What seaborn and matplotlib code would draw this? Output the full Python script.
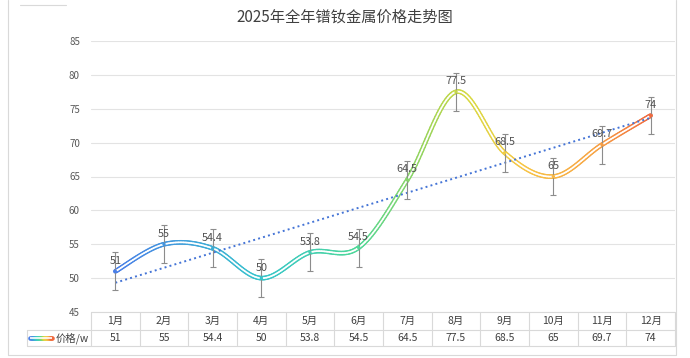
"""2025 praseodymium-neodymium price trend, redrawn from an Excel chart."""

import matplotlib.pyplot as plt
import numpy as np
import pandas as pd
import seaborn as sns
from matplotlib.collections import LineCollection
from matplotlib.colors import LinearSegmentedColormap
from matplotlib.lines import Line2D
from matplotlib.transforms import blended_transform_factory

# Data
months = ["1月", "2月", "3月", "4月", "5月", "6月", "7月", "8月", "9月", "10月", "11月", "12月"]
prices = [51, 55, 54.4, 50, 53.8, 54.5, 64.5, 77.5, 68.5, 65, 69.7, 74]
price_labels = ["51", "55", "54.4", "50", "53.8", "54.5", "64.5", "77.5", "68.5", "65", "69.7", "74"]
error_size = 2.8  # same error bar for every month
series_name = "价格/w"
title = "2025年全年镨钕金属价格走势图"

# Gradient along the line, left to right
grad_cmap = LinearSegmentedColormap.from_list(
	"price_grad",
	[
		(0.00, "#4a7fe8"),
		(0.27, "#36c5cc"),
		(0.45, "#4fd89a"),
		(0.58, "#9ad45a"),
		(0.66, "#d8da42"),
		(0.76, "#f7c646"),
		(0.90, "#f7a244"),
		(1.00, "#f06a40"),
	],
)

sns.set_theme(style="white")
plt.rcParams["font.family"] = ["Noto Sans CJK SC", "DejaVu Sans"]

df = pd.DataFrame({"pos": np.arange(len(months)), "month": months, "price": prices})

fig = plt.figure(figsize=(6.9, 3.58), dpi=100)
W, H = 690, 358
ax = fig.add_axes([91 / W, (H - 312) / H, 584 / W, 271 / H])

# outer chart frame (left, bottom, right edges show in the screenshot)
frame_kw = {"color": "#d9d9d9", "linewidth": 0.8, "transform": fig.transFigure}
fig.lines.extend([
	Line2D([8 / W, 8 / W], [3 / H, 1], **frame_kw),
	Line2D([676 / W, 676 / W], [3 / H, 1], **frame_kw),
	Line2D([8 / W, 676 / W], [3 / H, 3 / H], **frame_kw),
	Line2D([20 / W, 66 / W], [1 - 5 / H, 1 - 5 / H], **frame_kw),
])

fig.text(345 / W, 1 - 17 / H, title, ha="center", va="center", fontsize=11, color="#404040")

ax.set_xlim(-0.5, len(months) - 0.5)
ax.set_ylim(45, 85)
ax.set_yticks(np.arange(45, 86, 5))
ax.tick_params(axis="y", labelsize=7, colors="#595959", length=0, pad=8)
ax.set_xticks([])
ax.grid(axis="y", color="#e3e3e3", linewidth=0.8)
for s in ax.spines.values():
	s.set_visible(False)


def smooth_path(xs, ys, n=30):
	"""Excel-style smoothed line: Catmull-Rom as cubic Bezier segments."""
	pts = np.column_stack([xs, ys]).astype(float)
	ext = np.vstack([pts[0], pts, pts[-1]])
	out = []
	for i in range(len(pts) - 1):
		p0, p1, p2, p3 = ext[i], ext[i + 1], ext[i + 2], ext[i + 3]
		c1 = p1 + (p2 - p0) / 6
		c2 = p2 - (p3 - p1) / 6
		t = np.linspace(0, 1, n, endpoint=i == len(pts) - 2)[:, None]
		out.append((1 - t) ** 3 * p1 + 3 * (1 - t) ** 2 * t * c1 + 3 * (1 - t) * t**2 * c2 + t**3 * p2)
	return np.vstack(out)


curve = smooth_path(df["pos"], df["price"])
segs = np.stack([curve[:-1], curve[1:]], axis=1)
seg_x = (curve[:-1, 0] - df["pos"].min()) / (df["pos"].max() - df["pos"].min())

# double line: colored outer stroke, white core
ax.add_collection(LineCollection(segs, colors=grad_cmap(seg_x), linewidths=3.4, capstyle="round", zorder=3))
ax.add_collection(LineCollection(segs, colors="white", linewidths=1.2, capstyle="round", zorder=4))

# linear trend line
sns.regplot(data=df, x="pos", y="price", scatter=False, ci=None, ax=ax,
			line_kws={"color": "#4474d6", "linestyle": ":", "linewidth": 1.4, "zorder": 5})
ax.set_xlabel("")
ax.set_ylabel("")

ax.errorbar(df["pos"], df["price"], yerr=error_size, fmt="none", ecolor="#8c8c8c",
			elinewidth=0.8, capsize=2.5, capthick=0.8, zorder=6)
ax.scatter(df["pos"], df["price"], s=6, c=grad_cmap(df["pos"] / df["pos"].max()), zorder=7, linewidths=0)

for x, y, lab in zip(df["pos"], df["price"], price_labels):
	ax.annotate(lab, (x, y), xytext=(0, 4), textcoords="offset points", ha="center", va="bottom",
				fontsize=7.8, color="#505050", zorder=8)

# data table under the axis
trans = blended_transform_factory(ax.transData, ax.transAxes)
row1 = -18 / 271
row2 = -34 / 271
key_left = -0.5 - (91 - 27) / (584 / 12)
grid_kw = {"color": "#d9d9d9", "linewidth": 0.8, "transform": trans, "clip_on": False}
ax.plot([-0.5, 11.5], [0, 0], **grid_kw)
ax.plot([key_left, 11.5], [row1, row1], **grid_kw)
ax.plot([key_left, 11.5], [row2, row2], **grid_kw)
ax.plot([key_left, key_left], [row1, row2], **grid_kw)
for b in np.arange(-0.5, 12, 1):
	ax.plot([b, b], [0, row2], **grid_kw)
for x, m, lab in zip(df["pos"], months, price_labels):
	ax.text(x, row1 / 2, m, transform=trans, ha="center", va="center", fontsize=7.5, color="#404040")
	ax.text(x, (row1 + row2) / 2, lab, transform=trans, ha="center", va="center", fontsize=7.5, color="#404040")

# legend key inside the table
kx = np.linspace(key_left + 0.07, key_left + 0.52, 20)
ky = np.full_like(kx, (row1 + row2) / 2)
kp = np.column_stack([kx, ky])
ksegs = np.stack([kp[:-1], kp[1:]], axis=1)
ax.add_collection(LineCollection(ksegs, colors=grad_cmap(np.linspace(0, 1, 19)), linewidths=3.4,
								 transform=trans, clip_on=False, capstyle="round"))
ax.add_collection(LineCollection(ksegs, colors="white", linewidths=1.2, transform=trans, clip_on=False))
ax.text(key_left + 0.58, (row1 + row2) / 2, series_name, transform=trans, ha="left", va="center",
		fontsize=7.5, color="#404040")

fig.savefig("out.png", dpi=100)
